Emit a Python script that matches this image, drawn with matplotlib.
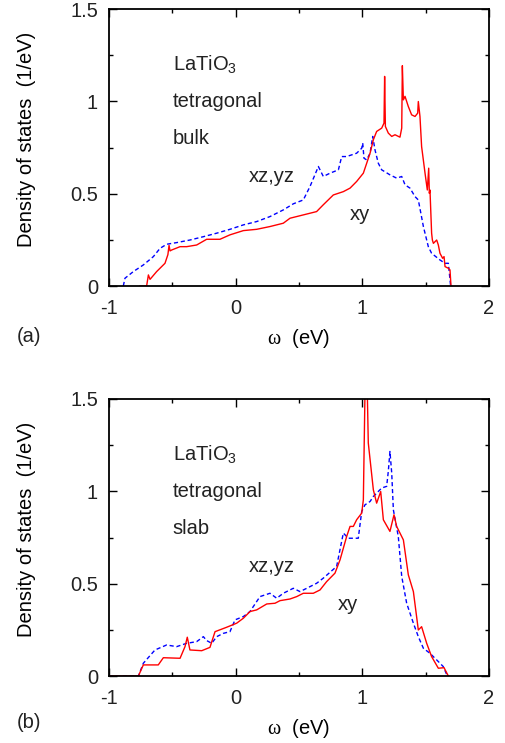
import matplotlib
matplotlib.use('Agg')
import matplotlib.pyplot as plt
from matplotlib.ticker import MultipleLocator

plt.rcParams['font.family'] = ['Liberation Sans', 'DejaVu Sans']
plt.rcParams['mathtext.default'] = 'regular'
plt.rcParams['mathtext.fontset'] = 'custom'
plt.rcParams['mathtext.rm'] = 'Liberation Serif'
plt.rcParams['font.size'] = 14.5
plt.rcParams['text.color'] = '#222222'

# (a) bulk - xy (vermelho)
xa_xy = [-0.755, -0.703, -0.689, -0.676, -0.624, -0.558, -0.535, -0.526, -0.518, -0.505,
         -0.439, -0.387, -0.308, -0.229, -0.124, -0.045, 0.061, 0.166, 0.271, 0.376,
         0.429, 0.534, 0.639, 0.692, 0.771, 0.85, 0.903, 0.955, 1.008, 1.061,
         1.087, 1.113, 1.153, 1.171, 1.176, 1.182, 1.205, 1.232, 1.258, 1.297,
         1.311, 1.316, 1.324, 1.337, 1.363, 1.389, 1.416, 1.437, 1.442, 1.455,
         1.468, 1.495, 1.513, 1.524, 1.529, 1.534, 1.547, 1.553, 1.561, 1.587,
         1.6, 1.613, 1.634, 1.645, 1.653, 1.679, 1.692, 1.7]
ya_xy = [0.0, 0.0, 0.06, 0.036, 0.078, 0.123, 0.17, 0.22, 0.19, 0.195,
         0.213, 0.213, 0.222, 0.253, 0.253, 0.277, 0.30, 0.307, 0.322, 0.34,
         0.367, 0.385, 0.403, 0.44, 0.493, 0.511, 0.53, 0.566, 0.611, 0.719,
         0.792, 0.837, 0.855, 0.882, 1.135, 0.864, 0.828, 0.81, 0.819, 0.806,
         0.855, 1.193, 1.008, 1.027, 0.972, 0.927, 0.918, 0.936, 0.999, 0.918,
         0.755, 0.611, 0.52, 0.638, 0.502, 0.52, 0.286, 0.249, 0.231, 0.249,
         0.222, 0.177, 0.15, 0.159, 0.105, 0.096, 0.087, 0.0]

# (a) bulk - xz,yz (azul)
xa_xz = [-0.887, -0.874, -0.808, -0.729, -0.65, -0.597, -0.545, -0.466, -0.361, -0.255,
         -0.15, -0.045, 0.061, 0.166, 0.271, 0.376, 0.455, 0.534, 0.587, 0.653,
         0.692, 0.745, 0.811, 0.837, 0.876, 0.955, 0.995, 1.003, 1.013, 1.034,
         1.061, 1.082, 1.1, 1.126, 1.153, 1.218, 1.271, 1.311, 1.337, 1.376,
         1.416, 1.442, 1.482, 1.508, 1.521, 1.547, 1.613, 1.653, 1.679, 1.687, 1.697]
ya_xz = [0.0, 0.042, 0.078, 0.114, 0.159, 0.204, 0.226, 0.235, 0.249, 0.267,
         0.286, 0.307, 0.331, 0.349, 0.376, 0.412, 0.445, 0.466, 0.539, 0.647,
         0.593, 0.611, 0.629, 0.701, 0.701, 0.719, 0.746, 0.774, 0.692, 0.683,
         0.719, 0.81, 0.737, 0.665, 0.629, 0.602, 0.584, 0.593, 0.548, 0.53,
         0.484, 0.466, 0.322, 0.249, 0.213, 0.177, 0.141, 0.123, 0.123, 0.069, 0.0]

# (b) slab - xy
xb_xy = [-1.0, -0.768, -0.729, -0.611, -0.571, -0.439, -0.4, -0.382, -0.361, -0.268,
         -0.203, -0.163, -0.071, 0.008, 0.061, 0.113, 0.166, 0.245, 0.311, 0.35,
         0.429, 0.482, 0.534, 0.613, 0.666, 0.718, 0.784, 0.824, 0.876, 0.903,
         0.929, 0.955, 0.995, 1.008, 1.029, 1.047, 1.087, 1.113, 1.145, 1.166,
         1.218, 1.25, 1.271, 1.324, 1.363, 1.403, 1.442, 1.468, 1.508, 1.547,
         1.6, 1.645, 1.679]
yb_xy = [0.0, 0.0, 0.06, 0.06, 0.099, 0.096, 0.159, 0.21, 0.141, 0.137,
         0.155, 0.24, 0.264, 0.286, 0.313, 0.349, 0.358, 0.39, 0.394, 0.408,
         0.417, 0.43, 0.448, 0.448, 0.466, 0.511, 0.557, 0.629, 0.755, 0.81,
         0.81, 0.846, 0.882, 0.954, 1.9, 1.262, 1.008, 0.936, 0.999, 0.846,
         0.783, 0.873, 0.81, 0.737, 0.548, 0.457, 0.249, 0.267, 0.177, 0.105,
         0.042, 0.045, 0.0]

# (b) slab - xz,yz
xb_xz = [-1.0, -0.768, -0.729, -0.637, -0.545, -0.466, -0.387, -0.308, -0.255, -0.229,
         -0.189, -0.15, -0.097, -0.045, -0.005, 0.061, 0.113, 0.192, 0.271, 0.324,
         0.376, 0.455, 0.508, 0.561, 0.639, 0.692, 0.797, 0.85, 0.889, 0.968,
         0.995, 1.021, 1.061, 1.087, 1.153, 1.192, 1.205, 1.218, 1.232, 1.245,
         1.284, 1.311, 1.35, 1.403, 1.442, 1.482, 1.534, 1.587, 1.639, 1.671]
yb_xz = [0.0, 0.0, 0.069, 0.141, 0.168, 0.159, 0.177, 0.186, 0.213, 0.192,
         0.177, 0.213, 0.231, 0.24, 0.304, 0.322, 0.349, 0.43, 0.448, 0.421,
         0.448, 0.475, 0.457, 0.475, 0.502, 0.53, 0.593, 0.774, 0.746, 0.746,
         0.891, 0.927, 0.945, 0.972, 1.018, 1.027, 1.108, 1.216, 1.099, 0.9,
         0.755, 0.539, 0.394, 0.286, 0.213, 0.15, 0.123, 0.087, 0.051, 0.0]


def painel(ax, x_xy, y_xy, x_xz, y_xz, nome, pos_xy):
    ax.plot(x_xz, y_xz, color='#0000ff', lw=1.0, dashes=(3, 2))
    ax.plot(x_xy, y_xy, color='#ff0000', lw=1.0)
    ax.set_xlim(-1, 2)
    ax.set_ylim(0, 1.5)
    ax.xaxis.set_minor_locator(MultipleLocator(0.5))
    ax.yaxis.set_minor_locator(MultipleLocator(0.25))
    ax.set_yticks([0, 0.5, 1, 1.5])
    ax.set_yticklabels(['0', '0.5', '1', '1.5'])
    ax.set_xticks([-1, 0, 1, 2])
    ax.set_xticklabels(['-1', '0', '1', '2'])
    ax.tick_params(which='both', direction='in', top=True, right=True, width=1,
                   colors='black', labelcolor='#222222')
    ax.tick_params(which='major', length=6)
    ax.tick_params(which='minor', length=3)
    ax.tick_params(axis='x', pad=9)
    ax.tick_params(axis='y', pad=8)
    for s in ax.spines.values():
        s.set_linewidth(1.3)

    ax.set_ylabel('Density of states  (1/eV)')
    ax.yaxis.set_label_coords(-0.192, 0.53)
    ax.set_xlabel(r'$\mathrm{\omega}$  (eV)')
    ax.xaxis.set_label_coords(0.5, -0.188)
    ax.xaxis.label.set_va('center')

    ax.text(-0.497, 1.2, 'LaTiO$_3$', va='center')
    ax.text(-0.497, 1.0, 'tetragonal', va='center')
    ax.text(-0.497, 0.8, nome, va='center')
    ax.text(0.1, 0.593, 'xz,yz', va='center')
    ax.text(pos_xy, 0.385, 'xy', va='center')


fig = plt.figure(figsize=(5.05, 7.43), dpi=100)
ax_a = fig.add_axes([109/505, (743-286)/743, 380/505, 277/743])
ax_b = fig.add_axes([109/505, (743-676)/743, 380/505, 277/743])

painel(ax_a, xa_xy, ya_xy, xa_xz, ya_xz, 'bulk', 0.903)
painel(ax_b, xb_xy, yb_xy, xb_xz, yb_xz, 'slab', 0.803)

fig.text(17/505, 1 - 337/743, '(a)', va='center')
fig.text(17/505, 1 - 723/743, '(b)', va='center')

fig.savefig('out.png', dpi=100)
